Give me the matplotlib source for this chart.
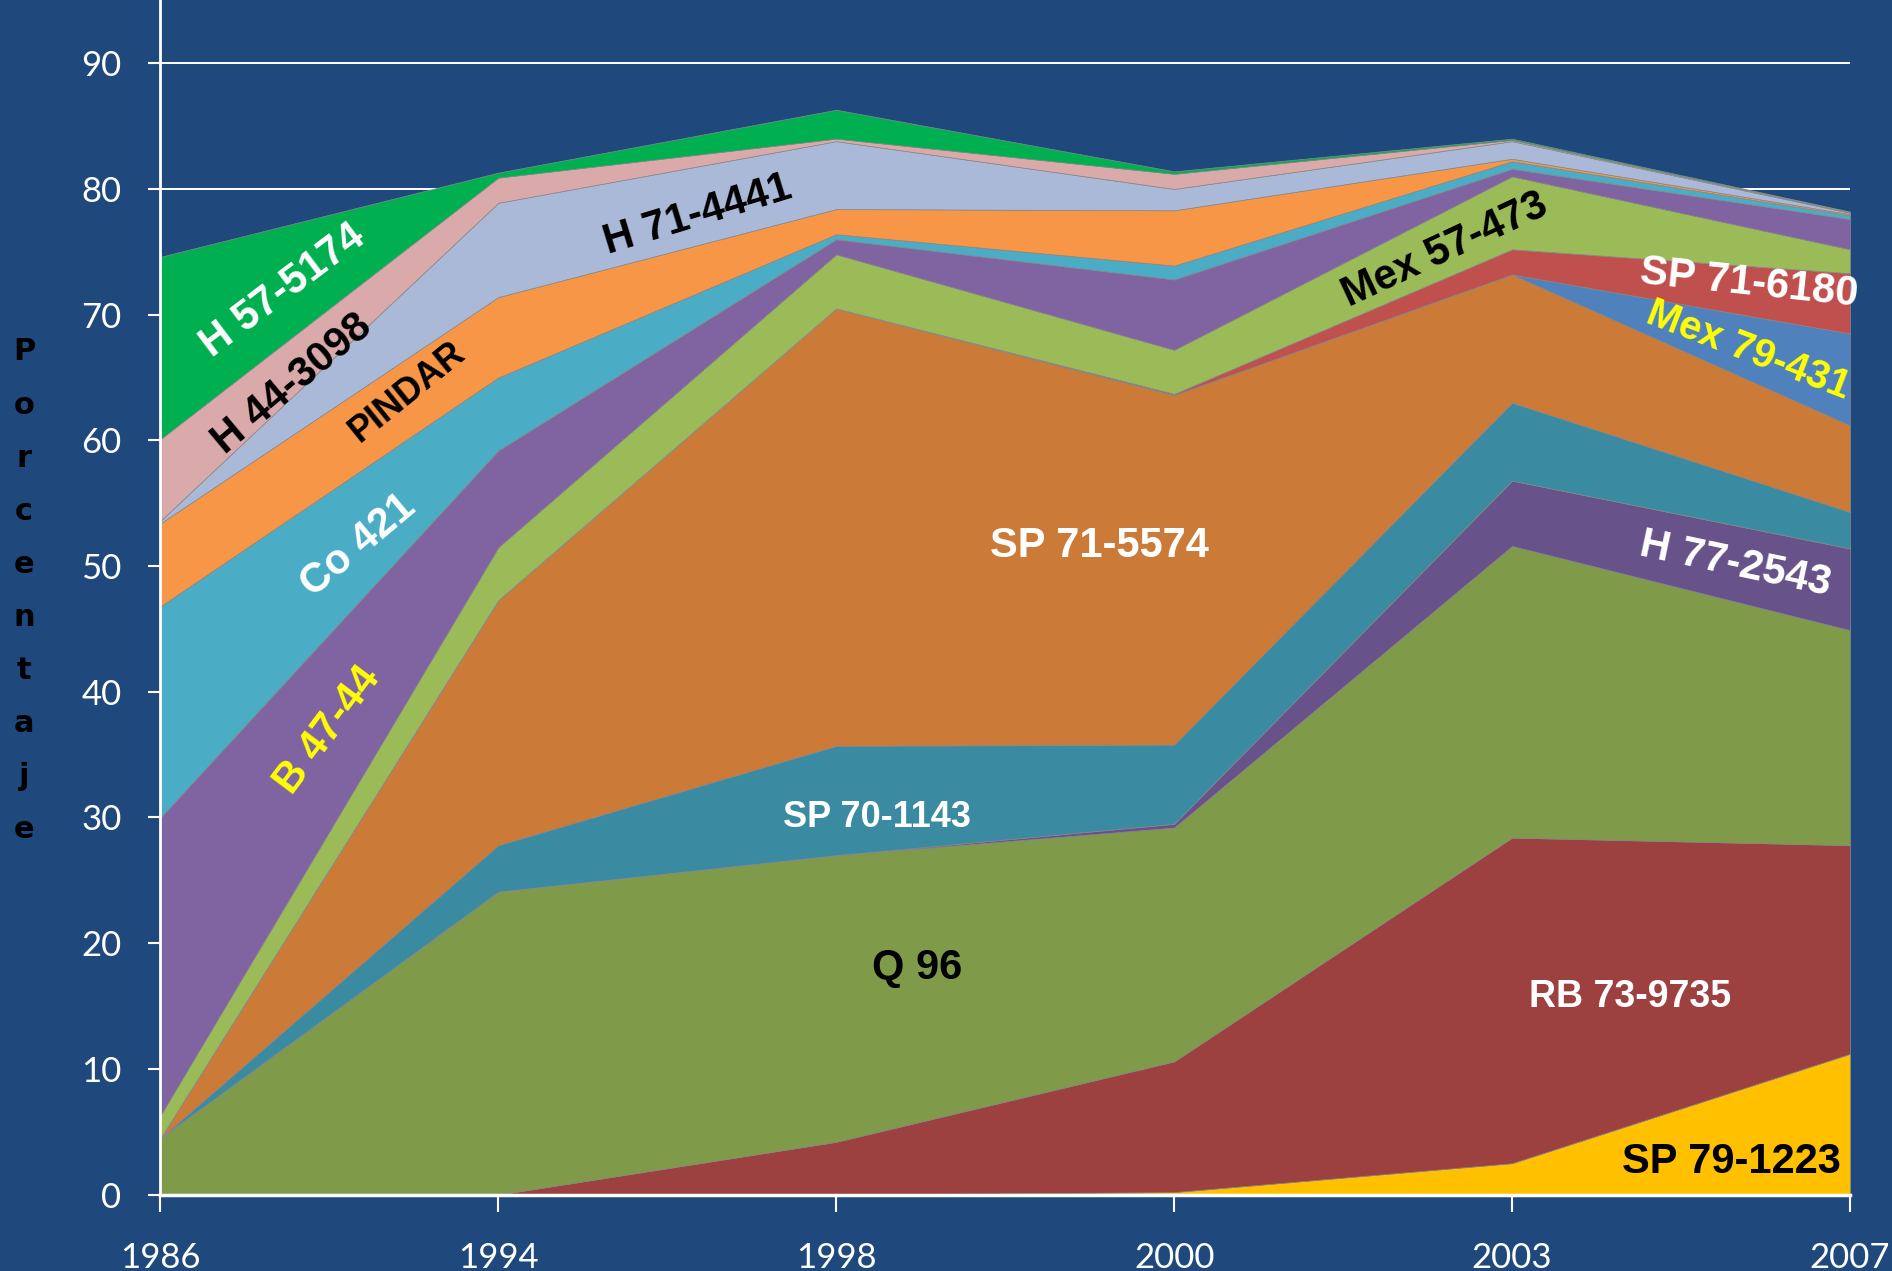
import numpy as np
import matplotlib.pyplot as plt

# Years on the x axis (evenly spaced categories)
years = ['1986', '1994', '1998', '2000', '2003', '2007']

# Share (%) of each variety, stacked bottom -> top
sp79_1223 = [0.0, 0.0, 0.0, 0.2, 2.5, 11.2]
rb73_9735 = [0.0, 0.0, 4.2, 10.4, 25.9, 16.6]
q96 = [4.5, 24.1, 22.8, 18.6, 23.2, 17.1]
h77_2543 = [0.0, 0.0, 0.0, 0.3, 5.2, 6.5]
sp70_1143 = [0.0, 3.7, 8.7, 6.3, 6.2, 2.9]
sp71_5574 = [0.0, 19.5, 34.8, 27.8, 10.2, 6.9]
mex79_431 = [0.0, 0.0, 0.0, 0.0, 0.0, 7.3]
sp71_6180 = [0.0, 0.0, 0.0, 0.1, 2.0, 4.8]
mex57_473 = [1.8, 4.2, 4.3, 3.5, 5.8, 1.9]
b47_44 = [23.7, 7.7, 1.2, 5.6, 0.6, 2.4]
co421 = [16.8, 5.8, 0.4, 1.1, 0.6, 0.3]
pindar = [6.6, 6.4, 2.0, 4.4, 0.2, 0.1]
h71_4441 = [0.2, 7.5, 5.4, 1.7, 1.4, 0.1]
h44_3098 = [6.5, 2.0, 0.2, 1.2, 0.1, 0.05]
h57_5174 = [14.5, 0.4, 2.3, 0.2, 0.1, 0.05]

series = [sp79_1223, rb73_9735, q96, h77_2543, sp70_1143, sp71_5574,
          mex79_431, sp71_6180, mex57_473, b47_44, co421, pindar,
          h71_4441, h44_3098, h57_5174]
colors = ['#FFC000', '#9C4040', '#7F9A48', '#67528A', '#3A8BA2', '#CB7A38',
          '#4F81BD', '#C0504D', '#9BBB59', '#8064A2', '#4BACC6', '#F79646',
          '#AAB9D7', '#D9AAA9', '#00B050']

bg = '#1F497D'

fig = plt.figure(figsize=(18.92, 12.71), dpi=100, facecolor=bg)
ax = fig.add_axes([0.0848, 0.0601, 0.893, 0.9399])
ax.set_facecolor(bg)

x = np.arange(len(years))
ax.stackplot(x, *series, colors=colors, edgecolor='#8a8a8a', linewidth=0.5)

ax.set_xlim(0, len(years) - 1)
ax.set_ylim(0, 95.03)
ax.set_yticks(np.arange(0, 91, 10))
ax.set_xticks(x)
ax.set_xticklabels(years)

ax.yaxis.grid(True, color='white', linewidth=1.4)
ax.set_axisbelow(True)

for s in ['top', 'right']:
    ax.spines[s].set_visible(False)
ax.spines['left'].set_color('white')
ax.spines['left'].set_linewidth(2)
ax.spines['bottom'].set_color('white')
ax.spines['bottom'].set_linewidth(2.5)
ax.spines['bottom'].set_zorder(5)

ax.tick_params(axis='y', colors='white', length=9, width=1.5, pad=19,
               labelsize=25)
ax.tick_params(axis='x', colors='white', length=12, width=1.5, pad=22,
               labelsize=25)
for lab in ax.get_xticklabels() + ax.get_yticklabels():
    lab.set_family('Lato')

# vertical y label, one letter per line
for i, ch in enumerate('Porcentaje'):
    fig.text(24 / 1892, 1 - (352 + i * 53.1) / 1271, ch, ha='center',
             va='center', fontsize=22, fontweight='bold', color='black')

# in-chart labels: (text, x, y, rotation, color, size)
labels = [
    ('H 57-5174', 0.364, 71.9, 37, 'white', 30),
    ('H 44-3098', 0.389, 64.5, 40, 'black', 30),
    ('PINDAR', 0.73, 63.8, 39, 'black', 26),
    ('H 71-4441', 1.59, 77.9, 17, 'black', 30),
    ('Co 421', 0.586, 51.6, 40, 'white', 30),
    ('B 47-44', 0.496, 36.9, 53, 'yellow', 30),
    ('SP 71-5574', 2.78, 51.6, 0, 'white', 30),
    ('SP 70-1143', 2.12, 30.0, 0, 'white', 26),
    ('Q 96', 2.24, 18.0, 0, 'black', 30),
    ('RB 73-9735', 4.35, 15.7, 0, 'white', 27),
    ('SP 79-1223', 4.65, 2.6, 0, 'black', 30),
    ('H 77-2543', 4.66, 50.1, -12, 'white', 30),
    ('SP 71-6180', 4.70, 72.5, -6, 'white', 30),
    ('Mex 79-431', 4.70, 67.2, -21, 'yellow', 29),
    ('Mex 57-473', 3.80, 75.1, 25, 'black', 30),
]
for txt, lx, ly, rot, col, size in labels:
    ax.text(lx, ly, txt, rotation=rot, rotation_mode='anchor', ha='center',
            va='center', color=col, fontsize=size, fontweight='bold',
            family='Liberation Sans', clip_on=False, zorder=6)

fig.savefig('out.png', dpi=100, facecolor=bg)
